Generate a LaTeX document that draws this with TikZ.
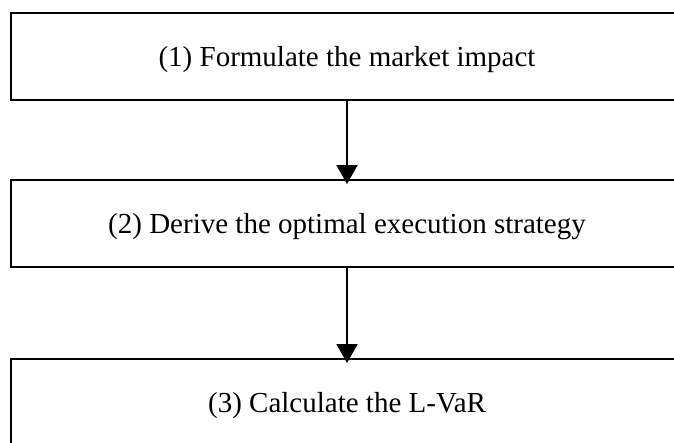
\documentclass[tikz,border=0pt]{standalone}
\usepackage{fontspec}
\setmainfont{Liberation Serif}
\usetikzlibrary{arrows.meta}
\begin{document}
\begin{tikzpicture}[x=1pt,y=-1pt,
  stepbox/.style={draw=black, line width=2pt, minimum width=672pt, minimum height=87pt,
    inner sep=0pt, text height=20pt, text depth=0pt, font=\fontsize{29}{34}\selectfont},
  flow/.style={line width=2pt, -{Triangle[width=21pt,length=19pt]}}]
\useasboundingbox (0,0) rectangle (674,442);
\clip (0,0) rectangle (674,442);
\node[stepbox] (b1) at (347,56.5) {(1) Formulate the market impact};
\node[stepbox] (b2) at (347,223.5) {(2) Derive the optimal execution strategy};
\node[stepbox] (b3) at (347,402.5) {(3) Calculate the L-VaR};
\draw[flow] (b1.south) -- ([yshift=-5pt]b2.north);
\draw[flow] (b2.south) -- ([yshift=-5pt]b3.north);
\end{tikzpicture}
\end{document}
